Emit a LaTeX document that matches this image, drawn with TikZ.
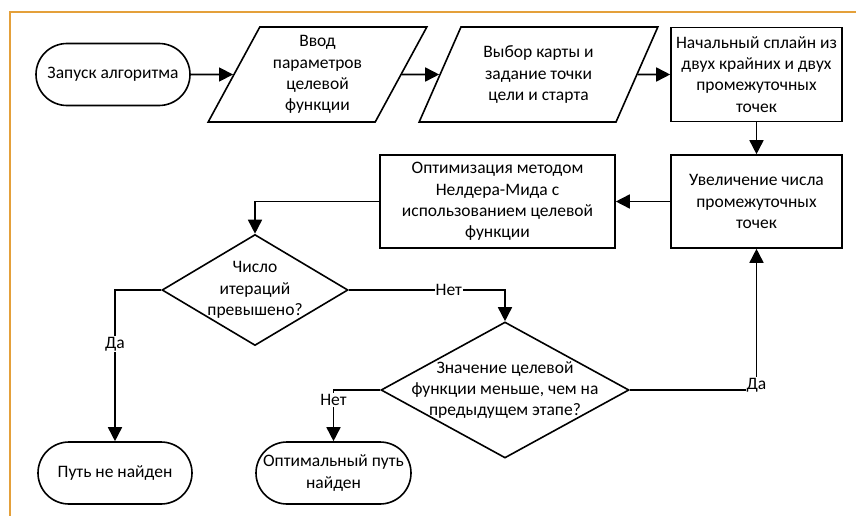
\documentclass[tikz,border=0pt]{standalone}
\usepackage{fontspec}
\setmainfont{Carlito}
\usetikzlibrary{arrows.meta,shapes.geometric,shapes.misc}

\definecolor{frameorange}{RGB}{228,160,58}

\tikzset{
	base/.style={draw=black, line width=1.6pt, align=center, font=\fontsize{17.5}{21.3}\selectfont},
	terminal/.style={base, rounded rectangle, minimum height=62pt, inner sep=1pt},
	inout/.style={base, trapezium, trapezium left angle=63, trapezium right angle=117, trapezium stretches=true, minimum height=95pt, inner sep=1pt},
	process/.style={base, rectangle, minimum width=171pt, minimum height=93pt, inner sep=1pt},
	decision/.style={base, diamond, inner sep=-14pt},
	flow/.style={line width=1.6pt, -{Triangle[length=14pt,width=14pt]}},
	answer/.style={fill=white, inner sep=1pt, font=\fontsize{17.5}{21.3}\selectfont}
}

\begin{document}
\begin{tikzpicture}[x=1pt, y=-1pt]
\useasboundingbox (0,0) rectangle (856,516);
\draw[frameorange, line width=2pt] (10,516) -- (10,12) -- (856,12);

\pgfmathsetmacro{\rowA}{74.5}
\pgfmathsetmacro{\rowB}{201.5}
\pgfmathsetmacro{\rowE}{473}

\node[terminal, minimum width=156pt] (start) at (113,\rowA) {Запуск алгоритма};
\node[inout, minimum width=219pt] (params) at (317.5,\rowA) {Ввод\\параметров\\целевой\\функции};
\node[inout, minimum width=239pt] (mapsel) at (538.5,\rowA) {Выбор карты и\\задание точки\\цели и старта};
\node[process, minimum height=94pt] (spline) at (756.5,\rowA) {Начальный сплайн из\\двух крайних и двух\\промежуточных\\точек};
\node[process] (refine) at (756.5,\rowB) {Увеличение числа\\промежуточных\\точек};
\node[process, minimum width=235pt] (optim) at (497.5,\rowB) {Оптимизация методом\\Нелдера-Мида с\\использованием целевой\\функции};
\node[decision, aspect=1.68, minimum width=186pt, minimum height=111pt] (iters) at (255,290) {Число\\итераций\\превышено?};
\node[decision, aspect=1.82, minimum width=248pt, minimum height=136pt] (better) at (505,390) {Значение целевой\\функции меньше, чем на\\предыдущем этапе?};
\node[terminal, minimum width=156pt] (fail) at (115,\rowE) {Путь не найден};
\node[terminal, minimum width=157pt] (found) at (333.5,\rowE) {Оптимальный путь\\найден};

\draw[flow] (start) -- (params);
\draw[flow] (params) -- (mapsel);
\draw[flow] (mapsel) -- (spline);
\draw[flow] (spline) -- (refine);
\draw[flow] (refine) -- (optim);
\draw[flow] (optim.west) -| (iters.north);
\draw[flow] (iters.west) -| node[answer, pos=0.68] {Да} (fail.north);
\draw[flow] (iters.east) -| node[answer, pos=0.32] {Нет} (better.north);
\draw[flow] (better.west) -| node[answer, pos=0.5, yshift=-10pt] {Нет} (found.north);
\draw[flow] (better.east) -| node[answer, pos=0.5, yshift=5pt] {Да} (refine.south);
\end{tikzpicture}
\end{document}
